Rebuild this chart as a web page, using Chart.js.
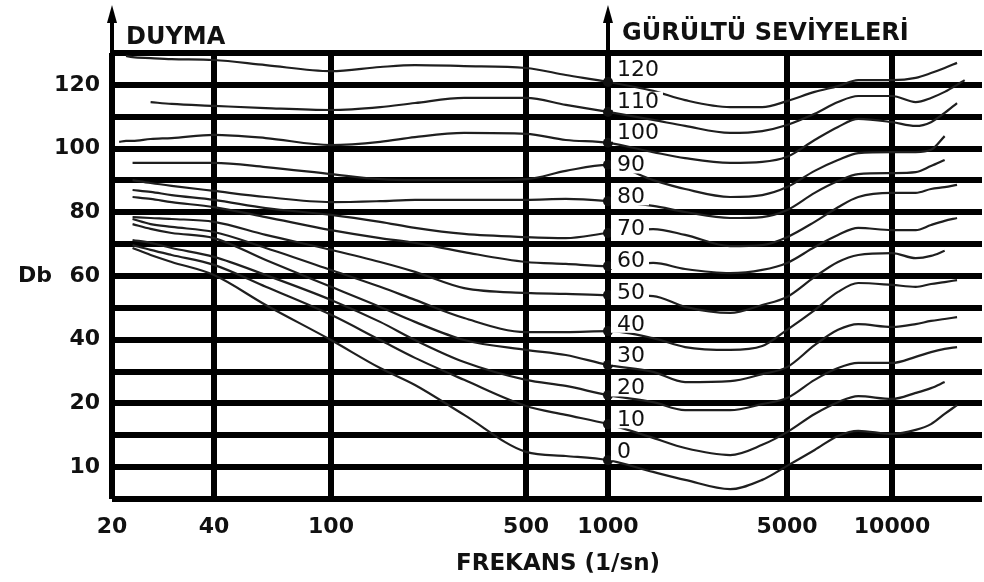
<!DOCTYPE html>
<html>
<head>
<meta charset="utf-8">
<script src="https://cdn.jsdelivr.net/npm/chart.js@4.4.1/dist/chart.umd.min.js"></script>
<style>
html,body{margin:0;padding:0;background:#ffffff;}
canvas{display:block;}
</style>
</head>
<body>
<canvas id="chart" width="984" height="582"></canvas>
<script>
// ---- data ----
const frequencies = [21, 22, 23, 26, 30, 40, 60, 100, 150, 200, 300, 500, 700, 1000, 1500, 2000, 3000, 4000, 5000, 6000, 7000, 8000, 10000, 12000, 13500, 15000, 16500, 17500];

const xTickValues = [20, 40, 100, 500, 1000, 5000, 10000];
const xTickLabels = ['20', '40', '100', '500', '1000', '5000', '10000'];

const yGridValues = [-10, 0, 10, 20, 30, 40, 50, 60, 70, 80, 90, 100, 110, 120, 130];
const yLabelValues = [120, 100, 80, 60, 40, 20, 0];
const yLabelTexts = ['120', '100', '80', '60', '40', '20', '10'];

const curveLevels = ['120', '110', '100', '90', '80', '70', '60', '50', '40', '30', '20', '10', '0'];

const c120 = [null, 129.1, 128.7, 128.4, 128.1, 127.8, 126.2, 124.3, 125.6, 126.2, 125.9, 125.3, 123.1, 120.9, 118.1, 115.2, 113.0, 113.0, 114.9, 117.8, 119.6, 121.5, 121.5, 122.2, 123.7, 125.3, 126.9, null];
const c110 = [null, null, null, 114.6, 114.0, 113.4, 112.7, 112.1, 113.0, 114.3, 115.9, 115.9, 113.7, 111.5, 109.0, 107.1, 104.9, 105.5, 107.4, 110.9, 114.6, 116.5, 116.5, 114.6, 115.9, 117.8, 120.0, 121.5];
const c100 = [102.1, 102.4, 102.4, 103.0, 103.3, 104.3, 103.3, 101.1, 102.1, 103.6, 104.9, 104.6, 102.7, 101.8, 98.9, 97.0, 95.5, 95.8, 97.4, 102.7, 106.8, 109.3, 108.3, 107.1, 108.3, 111.2, 114.3, null];
const c90 = [null, null, 95.5, 95.5, 95.5, 95.5, 94.2, 92.0, 90.4, 90.1, 90.1, 90.4, 93.0, 94.9, 90.1, 87.3, 84.8, 85.4, 87.9, 93.0, 96.4, 98.6, 98.9, 98.9, 99.6, 103.9, null, null];
const c80 = [null, null, 90.1, 89.2, 88.3, 86.7, 84.8, 83.2, 83.5, 83.9, 83.9, 83.9, 84.2, 83.5, 82.0, 80.1, 78.2, 78.5, 80.7, 86.1, 89.8, 92.0, 92.3, 92.6, 94.5, 96.4, null, null];
const c70 = [null, null, 87.0, 86.4, 85.4, 83.9, 81.3, 79.2, 77.0, 75.1, 73.2, 72.2, 71.9, 73.5, 74.7, 72.9, 69.4, 69.7, 72.2, 77.0, 81.6, 84.8, 86.1, 86.1, 87.3, 87.9, 88.6, null];
const c60 = [null, null, 84.8, 84.2, 83.2, 81.6, 78.5, 74.4, 71.9, 70.4, 67.5, 64.4, 63.8, 63.1, 64.1, 62.2, 60.9, 61.9, 64.1, 69.1, 72.9, 75.1, 74.4, 74.4, 76.0, 77.3, 78.2, null];
const c50 = [null, null, 78.5, 78.2, 77.9, 77.0, 72.9, 68.2, 64.4, 61.3, 56.2, 54.7, 54.4, 54.0, 53.7, 50.3, 48.4, 50.9, 53.4, 59.7, 64.4, 66.6, 67.2, 65.6, 66.3, 67.9, null, null];
const c40 = [null, null, 77.9, 76.3, 75.4, 73.8, 68.8, 61.9, 56.6, 52.5, 46.8, 42.4, 42.4, 42.7, 40.5, 37.7, 36.8, 38.0, 43.1, 49.3, 55.0, 57.8, 57.2, 56.6, 57.5, 58.1, 58.7, null];
const c30 = [null, null, 76.3, 74.8, 73.5, 71.9, 65.0, 56.6, 50.3, 45.6, 39.9, 36.8, 35.2, 32.1, 29.9, 26.7, 27.0, 29.2, 31.4, 38.3, 43.1, 44.9, 44.0, 44.9, 45.9, 46.5, 47.1, null];
const c20 = [null, null, 71.3, 70.4, 68.8, 66.0, 60.3, 52.5, 45.6, 39.9, 33.0, 27.4, 25.5, 22.6, 20.4, 17.9, 17.9, 19.8, 21.7, 27.4, 31.1, 32.7, 32.7, 34.6, 36.1, 37.1, 37.7, null];
const c10 = [null, null, 69.7, 68.2, 66.6, 63.5, 56.6, 47.8, 39.9, 34.3, 27.4, 19.2, 16.4, 13.5, 9.2, 6.0, 3.8, 7.0, 11.0, 16.7, 20.4, 22.3, 21.4, 23.3, 24.8, 26.7, null, null];
const c0 = [null, null, 68.8, 66.6, 64.4, 60.3, 50.9, 39.9, 31.1, 25.8, 16.4, 4.8, 3.5, 2.2, -1.5, -4.0, -6.9, -4.0, 0.4, 5.4, 9.8, 11.4, 10.4, 11.7, 13.5, 16.7, 19.5, null];

const curves = [c120, c110, c100, c90, c80, c70, c60, c50, c40, c30, c20, c10, c0];

// ---- layout of the hand-drawn frequency axis (piecewise logarithmic) ----
const X_AXIS_LAYOUT = {
  range: [20, 20000],
  anchorFreq: [20, 40, 100, 500, 1000, 5000, 10000, 20000],
  anchorPos: [0, 0.1172, 0.2517, 0.4759, 0.5701, 0.7759, 0.8966, 1]
};

class SegmentLogScale extends Chart.LinearScale {
  determineDataLimits() {
    this.min = X_AXIS_LAYOUT.range[0];
    this.max = X_AXIS_LAYOUT.range[1];
  }
  buildTicks() {
    return xTickValues.map(v => ({ value: v }));
  }
  getPixelForValue(value) {
    const f = X_AXIS_LAYOUT.anchorFreq, p = X_AXIS_LAYOUT.anchorPos;
    let i = 0;
    while (i < f.length - 2 && value > f[i + 1]) i++;
    const t = Math.log(value / f[i]) / Math.log(f[i + 1] / f[i]);
    return this.getPixelForDecimal(p[i] + t * (p[i + 1] - p[i]));
  }
  getValueForPixel(pixel) {
    const f = X_AXIS_LAYOUT.anchorFreq, p = X_AXIS_LAYOUT.anchorPos;
    const d = this.getDecimalForPixel(pixel);
    let i = 0;
    while (i < p.length - 2 && d > p[i + 1]) i++;
    const t = (d - p[i]) / (p[i + 1] - p[i]);
    return f[i] * Math.pow(f[i + 1] / f[i], t);
  }
}
SegmentLogScale.id = 'segmentLog';
SegmentLogScale.defaults = Chart.LinearScale.defaults;
Chart.register(SegmentLogScale);

Chart.defaults.font.family = '"DejaVu Sans", sans-serif';
Chart.defaults.color = '#111111';

const TEXT = '#111111';
const GRID_W = 6;

const overlay = {
  id: 'overlay',
  afterDatasetsDraw(chart) {
    const { ctx, scales: { x, y } } = chart;
    const x1000 = x.getPixelForValue(1000);
    ctx.save();
    ctx.font = '22px "DejaVu Sans"';
    ctx.textBaseline = 'middle';
    ctx.textAlign = 'left';
    curveLevels.forEach(level => {
      // each level label sits in the grid band just above its level
      const py = y.getPixelForValue(Number(level) + 5);
      const w = ctx.measureText(level).width;
      ctx.fillStyle = '#ffffff';
      ctx.fillRect(x1000 + GRID_W / 2, py - 9, w + 10, 18);
      ctx.fillStyle = TEXT;
      ctx.fillText(level, x1000 + 9, py + 1);
    });
    ctx.restore();
  },
  afterDraw(chart) {
    const { ctx, chartArea, scales: { x, y } } = chart;
    const xs = [x.getPixelForValue(20), x.getPixelForValue(1000)];
    ctx.save();
    ctx.strokeStyle = '#000';
    ctx.fillStyle = '#000';
    xs.forEach(px => {
      ctx.lineWidth = 4;
      ctx.beginPath();
      ctx.moveTo(px, chartArea.top);
      ctx.lineTo(px, 18);
      ctx.stroke();
      ctx.beginPath();
      ctx.moveTo(px, 5);
      ctx.lineTo(px - 5, 23);
      ctx.lineTo(px + 5, 23);
      ctx.closePath();
      ctx.fill();
    });
    ctx.fillStyle = TEXT;
    ctx.font = 'bold 24px "DejaVu Sans"';
    ctx.textBaseline = 'middle';
    ctx.textAlign = 'left';
    ctx.fillText('DUYMA', xs[0] + 14, 38);
    ctx.fillText('GÜRÜLTÜ SEVİYELERİ', xs[1] + 14, 34);
    ctx.font = 'bold 22px "DejaVu Sans"';
    ctx.textAlign = 'center';
    ctx.fillText('Db', 35, y.getPixelForValue(60));
    ctx.font = 'bold 23px "DejaVu Sans"';
    ctx.fillText('FREKANS (1/sn)', 558, 564);
    ctx.restore();
  }
};

const datasets = curves.map((vals, i) => ({
  label: curveLevels[i],
  data: frequencies.map((f, j) => ({ x: f, y: vals[j] })).filter(p => p.y !== null),
  borderColor: '#1f1f1f',
  borderWidth: 2.2,
  fill: false,
  cubicInterpolationMode: 'monotone',
  pointRadius: ctx => (ctx.raw && ctx.raw.x === 1000 ? 5 : 0),
  pointBackgroundColor: '#111111',
  pointBorderWidth: 0,
  pointHoverRadius: 0
}));

new Chart(document.getElementById('chart'), {
  type: 'line',
  data: { datasets },
  options: {
    responsive: false,
    devicePixelRatio: 1,
    animation: false,
    events: [],
    layout: { padding: { top: 53, right: 2, left: 0, bottom: 0 } },
    plugins: { legend: { display: false }, tooltip: { enabled: false } },
    scales: {
      x: {
        type: 'segmentLog',
        position: 'bottom',
        offset: false,
        border: { display: false },
        grid: { color: '#000', lineWidth: GRID_W, drawTicks: false },
        ticks: {
          autoSkip: false, maxRotation: 0, padding: 15,
          color: TEXT,
          font: { size: 22, weight: 'bold' },
          callback: (v, i) => xTickLabels[i]
        },
        title: { display: false, text: 'FREKANS (1/sn)' },
        afterFit: s => { s.height = 83; }
      },
      y: {
        type: 'linear',
        min: -10, max: 130,
        border: { display: false },
        grid: { color: '#000', lineWidth: GRID_W, drawTicks: false },
        afterBuildTicks: s => { s.ticks = yGridValues.map(v => ({ value: v })); },
        ticks: {
          autoSkip: false, padding: 12,
          color: TEXT,
          font: { size: 22, weight: 'bold' },
          callback: v => { const k = yLabelValues.indexOf(v); return k >= 0 ? yLabelTexts[k] : ''; }
        },
        afterFit: s => { s.width = 112; }
      }
    }
  },
  plugins: [overlay]
});
</script>
</body>
</html>
